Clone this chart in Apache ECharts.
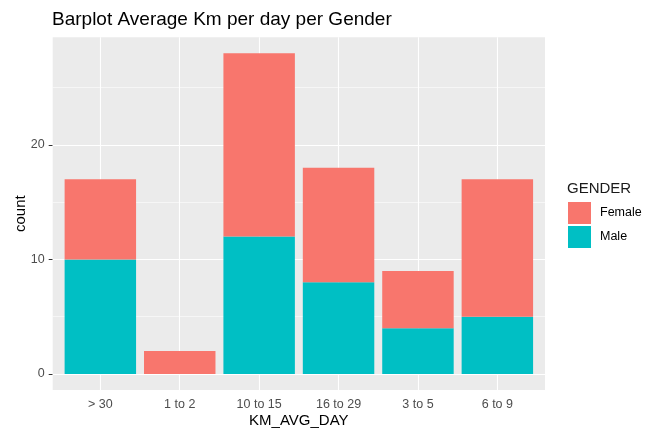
<!DOCTYPE html>
<html>
<head>
<meta charset="utf-8">
<script src="https://cdn.jsdelivr.net/npm/echarts@6.0.0/dist/echarts.min.js"></script>
<style>
  html, body { margin: 0; padding: 0; background: #fff; }
  #chart { width: 660px; height: 430px; }
</style>
</head>
<body>
<div id="chart"></div>
<script>
// categories as ordered on the x axis (alphabetical, like ggplot)
var categories = ["> 30", "1 to 2", "10 to 15", "16 to 29", "3 to 5", "6 to 9"];
// counts per gender
var femaleCounts = [7, 2, 16, 10, 5, 12];
var maleCounts = [10, 0, 12, 8, 4, 5];
// y ticks
var yMajor = [0, 10, 20];
var yMinor = [5, 15, 25];

var font = "Liberation Sans, Arial, sans-serif";
var positions = categories.map(function (c, i) { return i + 1; });

var gridLines = [];
yMajor.forEach(function (v) { gridLines.push({ yAxis: v, lineStyle: { width: 1.1 } }); });
yMinor.forEach(function (v) { gridLines.push({ yAxis: v, lineStyle: { width: 0.55 } }); });
positions.forEach(function (p) { gridLines.push({ xAxis: p, lineStyle: { width: 1.1 } }); });

// rows are [count, position] so the count is the stacked dimension
function rows(counts) {
  return counts.map(function (v, i) { return [v, positions[i]]; });
}

var myChart = echarts.init(document.getElementById("chart"));
var option = {
  animation: false,
  backgroundColor: "#fff",
  title: [
    {
      text: "Barplot Average Km per day per Gender",
      left: 52,
      top: 10,
      padding: 0,
      textStyle: { fontFamily: font, fontSize: 19, fontWeight: "normal", color: "#000" }
    },
    {
      text: "GENDER",
      left: 567,
      top: 181,
      padding: 0,
      textStyle: { fontFamily: font, fontSize: 15, fontWeight: "normal", color: "#1a1a1a" }
    }
  ],
  legend: {
    data: ["Female", "Male"],
    orient: "vertical",
    left: 568,
    top: 202,
    padding: 0,
    icon: "rect",
    itemWidth: 23,
    itemHeight: 22,
    itemGap: 2,
    textStyle: { fontFamily: font, fontSize: 12.5, color: "#000", padding: [0, 0, 0, 4] }
  },
  grid: {
    left: 52.7,
    right: 115,
    top: 37.3,
    bottom: 40,
    show: true,
    backgroundColor: "#EBEBEB",
    borderWidth: 0,
    outerBoundsMode: "none"
  },
  xAxis: {
    type: "value",
    min: 0.4,
    max: 6.6,
    name: "KM_AVG_DAY",
    nameLocation: "middle",
    nameGap: 23,
    nameMoveOverlap: false,
    nameTextStyle: { fontFamily: font, fontSize: 15, color: "#000" },
    axisLine: { show: false },
    splitLine: { show: false },
    axisTick: { show: true, customValues: positions, length: 4, lineStyle: { color: "#333" } },
    axisLabel: {
      customValues: positions,
      margin: 8,
      fontFamily: font,
      fontSize: 12.5,
      color: "#4D4D4D",
      formatter: function (v) { return categories[Math.round(v) - 1]; }
    }
  },
  yAxis: {
    type: "value",
    min: -1.4,
    max: 29.4,
    name: "count",
    nameLocation: "middle",
    nameGap: 24,
    nameMoveOverlap: false,
    nameTextStyle: { fontFamily: font, fontSize: 15, color: "#000" },
    axisLine: { show: false },
    splitLine: { show: false },
    axisTick: { show: true, customValues: yMajor, length: 4, lineStyle: { color: "#333" } },
    axisLabel: { customValues: yMajor, margin: 8, fontFamily: font, fontSize: 12.5, color: "#4D4D4D" }
  },
  series: [
    {
      name: "Male",
      type: "bar",
      stack: "gender",
      barWidth: "90%",
      encode: { x: 1, y: 0 },
      itemStyle: { color: "#00BFC4" },
      data: rows(maleCounts),
      markLine: {
        silent: true,
        z: 1,
        symbol: "none",
        label: { show: false },
        lineStyle: { color: "#fff", type: "solid" },
        data: gridLines
      }
    },
    {
      name: "Female",
      type: "bar",
      stack: "gender",
      barWidth: "90%",
      encode: { x: 1, y: 0 },
      itemStyle: { color: "#F8766D" },
      data: rows(femaleCounts)
    }
  ]
};
myChart.setOption(option);
</script>
</body>
</html>
